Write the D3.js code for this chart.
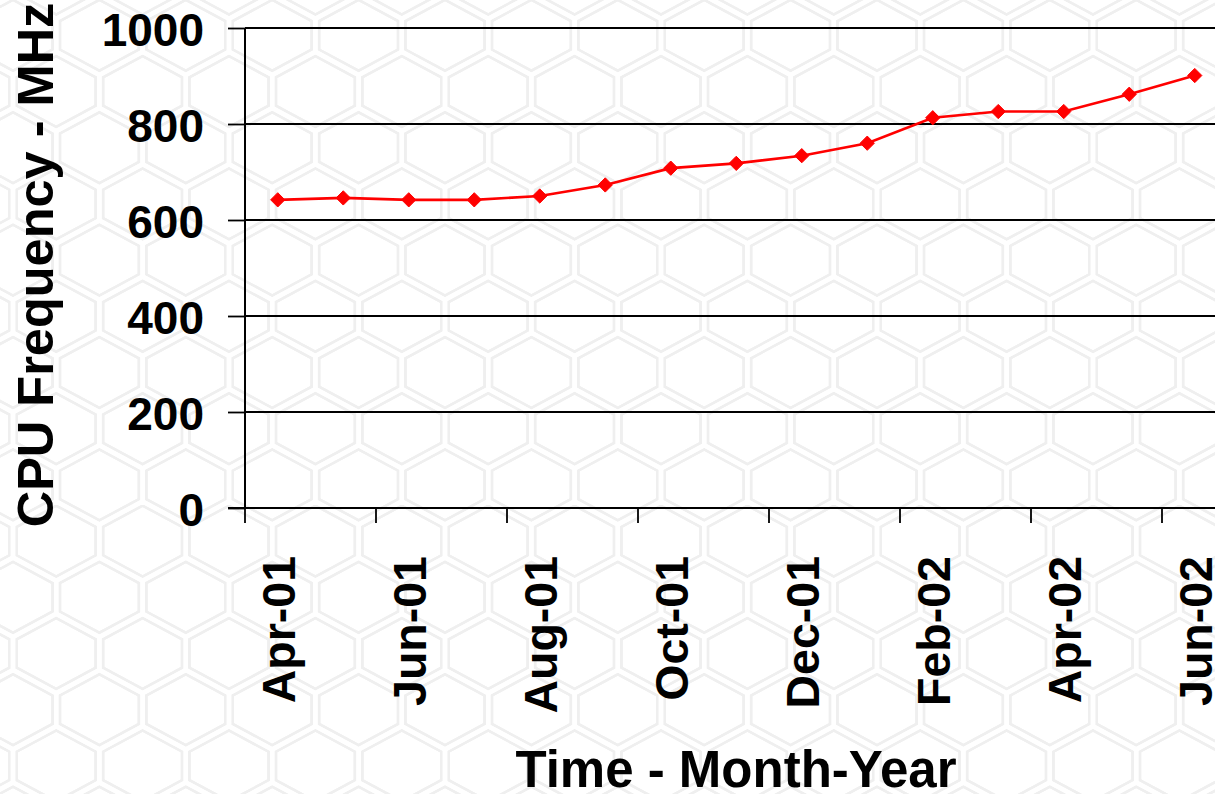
<!DOCTYPE html>
<html>
<head>
<meta charset="utf-8">
<script src="https://cdn.jsdelivr.net/npm/d3@7"></script>
<style>
  html, body { margin: 0; padding: 0; background: #ffffff; }
  svg { display: block; }
  text { font-family: "Liberation Sans", Arial, sans-serif; font-weight: bold; fill: #000; }
</style>
</head>
<body>
<svg id="chart" width="1215" height="794"></svg>
<script>
// Monthly CPU frequency, Apr 2001 – Jun 2002
const months = ["Apr-01","May-01","Jun-01","Jul-01","Aug-01","Sep-01","Oct-01",
                "Nov-01","Dec-01","Jan-02","Feb-02","Mar-02","Apr-02","May-02","Jun-02"];
const cpuMHz = [642, 646, 642, 642, 650, 673, 708, 718, 734, 760, 813, 826, 826, 862, 901];
const yTicks = [0, 200, 400, 600, 800, 1000];
const xTickLabels = ["Apr-01","Jun-01","Aug-01","Oct-01","Dec-01","Feb-02","Apr-02","Jun-02"];

const svg = d3.select("#chart");

// ---- honeycomb backdrop ----
const hexW = 86.4, rowStep = 56.2, edge = 33, slant = rowStep - edge;
const hexPath = (cx, cy) => {
  const a = hexW / 2, e = edge / 2;
  return `M${cx},${cy - e - slant}L${cx + a},${cy - e}L${cx + a},${cy + e}` +
         `L${cx},${cy + e + slant}L${cx - a},${cy + e}L${cx - a},${cy - e}Z`;
};
const cells = [];
for (let r = -13; r <= 3; r++) {
  const cy = 653.5 + r * rowStep;
  const x0 = (Math.abs(r) % 2 === 0) ? 56.2 : 13;
  for (let k = -2; k <= 15; k++) cells.push(hexPath(x0 + k * hexW, cy));
}
const bg = svg.append("g");
bg.selectAll("path.o").data(cells).join("path")
  .attr("d", d => d).attr("fill", "none").attr("stroke", "#efefef").attr("stroke-width", 10);
bg.selectAll("path.i").data(cells).join("path")
  .attr("d", d => d).attr("fill", "none").attr("stroke", "#ffffff").attr("stroke-width", 4.5);

// ---- scales ----
const plotLeft = 245, plotTop = 28, plotBottom = 508, band = 65.5;
const plotRight = plotLeft + band * months.length;
const x = d3.scaleBand().domain(months).range([plotLeft, plotRight]).padding(0);
const y = d3.scaleLinear().domain([0, 1000]).range([plotBottom, plotTop]);

// ---- gridlines & y axis ----
const yAxis = d3.axisLeft(y).tickValues(yTicks).tickFormat(d3.format("d"))
  .tickSize(17).tickPadding(24);
const gy = svg.append("g").attr("transform", `translate(${plotLeft},0)`).call(yAxis);
gy.select(".domain").remove();
gy.selectAll(".tick line").attr("stroke", "#000").attr("stroke-width", 1.8);
gy.selectAll(".tick text").attr("font-size", 46).attr("dy", "0.37em").attr("fill", "#000");
gy.attr("font-family", null).attr("font-size", null);

svg.append("g").selectAll("line").data(yTicks.filter(v => v > 0)).join("line")
  .attr("x1", plotLeft).attr("x2", plotRight)
  .attr("y1", d => y(d)).attr("y2", d => y(d))
  .attr("stroke", "#000").attr("stroke-width", 1.8);

// axis frame lines
svg.append("line").attr("x1", plotLeft).attr("x2", plotLeft).attr("y1", plotTop).attr("y2", plotBottom)
  .attr("stroke", "#000").attr("stroke-width", 2);
svg.append("line").attr("x1", plotLeft - 17).attr("x2", plotRight).attr("y1", plotBottom).attr("y2", plotBottom)
  .attr("stroke", "#000").attr("stroke-width", 2);

// ---- x axis: ticks between every second month, labels at month centres ----
const tickMonths = months.filter((m, i) => i % 2 === 0);
svg.append("g").selectAll("line").data(tickMonths).join("line")
  .attr("x1", d => x(d)).attr("x2", d => x(d))
  .attr("y1", plotBottom).attr("y2", plotBottom + 15)
  .attr("stroke", "#000").attr("stroke-width", 1.8);

svg.append("g").selectAll("text").data(xTickLabels).join("text")
  .attr("transform", d => `translate(${x(d) + x.bandwidth() / 2},556) rotate(-90)`)
  .attr("text-anchor", "end").attr("dy", "0.36em").attr("font-size", 46.5)
  .text(d => d);

// ---- series ----
const line = d3.line()
  .x((d, i) => x(months[i]) + x.bandwidth() / 2)
  .y(d => y(d));
svg.append("path").datum(cpuMHz).attr("d", line)
  .attr("fill", "none").attr("stroke", "#ff0000").attr("stroke-width", 2.6);

svg.append("g").selectAll("path").data(cpuMHz).join("path")
  .attr("transform", (d, i) => `translate(${x(months[i]) + x.bandwidth() / 2},${y(d)})`)
  .attr("d", d3.symbol().type(d3.symbolDiamond2).size(130))
  .attr("fill", "#ff0000").attr("stroke", "#ff0000").attr("stroke-width", 1);

// ---- axis titles ----
svg.append("text").attr("x", 736).attr("y", 787).attr("text-anchor", "middle")
  .attr("font-size", 51).text("Time - Month-Year");
svg.append("text").attr("transform", "translate(53,265) rotate(-90)")
  .attr("text-anchor", "middle").attr("font-size", 50.5).text("CPU Frequency - MHz");
</script>
</body>
</html>
